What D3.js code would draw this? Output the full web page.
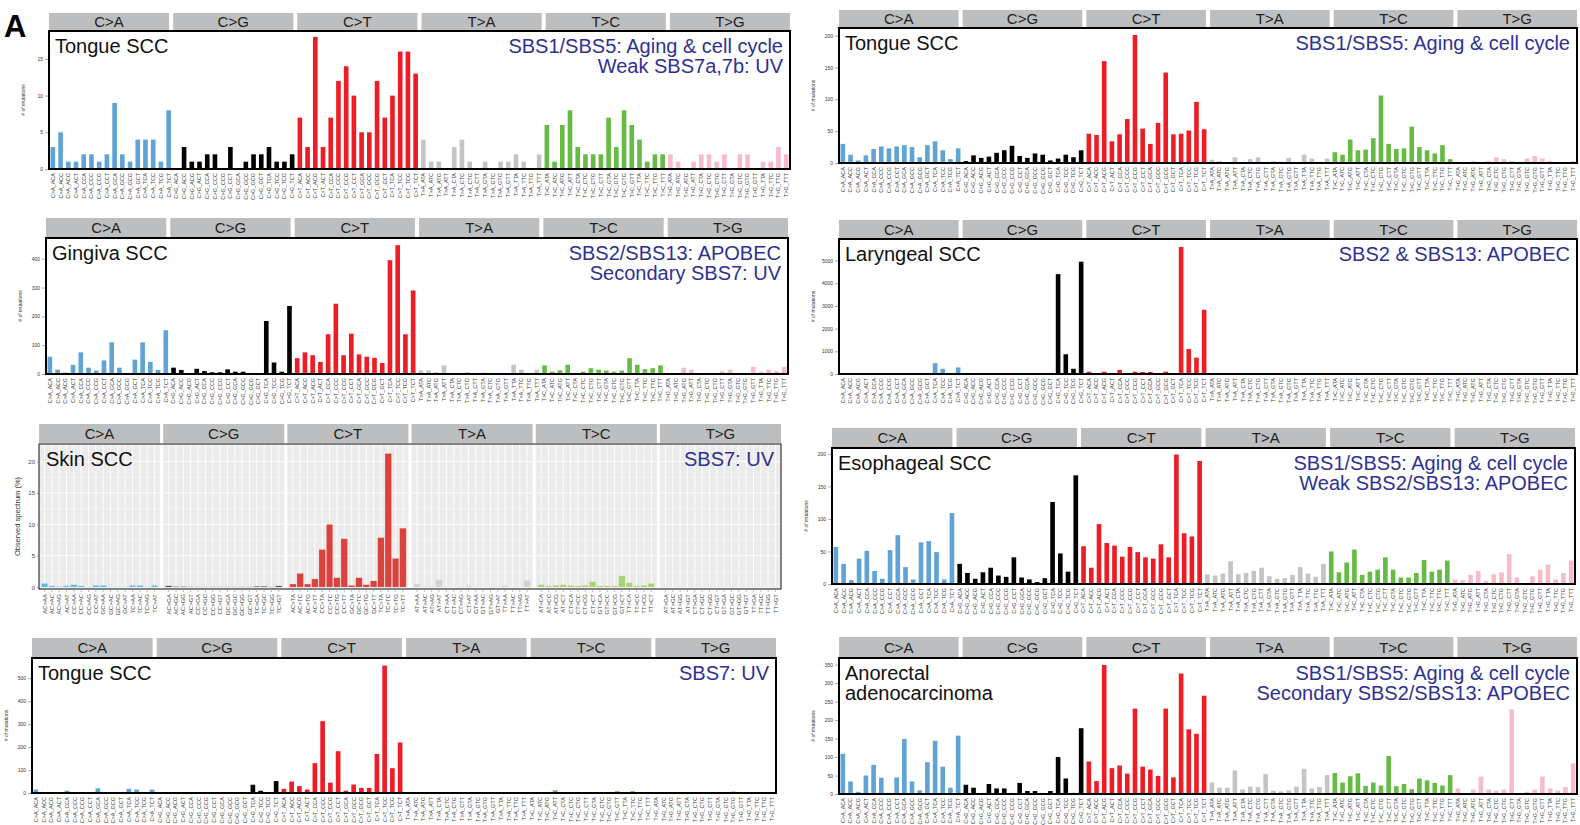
<!DOCTYPE html>
<html>
<head>
<meta charset="utf-8">
<script src="https://cdn.jsdelivr.net/npm/d3@7"></script>
<style>
  body { margin: 0; background: #fff; }
  svg { display: block; font-family: "Liberation Sans", Arial, sans-serif; }
</style>
</head>
<body>
<svg id="fig" width="1580" height="825"></svg>
<script>
// mutation classes and flanking bases
var mutTypes = ["C>A", "C>G", "C>T", "T>A", "T>C", "T>G"];
var bases = ["A", "C", "G", "T"];

// counts per trinucleotide context, 16 per mutation class in the order above
var tongueScc1 = [
  3,5,1,1,2,2,1,2,9,2,1,4,4,4,1,8,
  0,3,1,1,2,2,0,3,0,1,2,2,3,1,1,2,
  7,3,18,3,7,12,14,10,5,5,12,7,10,16,16,13,
  4,1,1,0,3,4,1,0,1,0,1,1,2,1,0,2,
  6,1,6,8,3,2,2,2,7,3,8,6,4,1,2,2,
  2,1,0,1,2,2,1,2,0,2,2,0,1,1,3,2
];
var tongueScc2 = [
  30,13,4,12,22,26,23,26,28,25,9,28,34,20,6,23,
  3,12,8,10,16,20,27,11,8,15,13,4,7,13,9,20,
  46,44,160,34,45,69,201,54,30,63,142,45,46,51,96,53,
  5,3,1,9,1,6,9,1,3,2,8,1,13,7,1,7,
  17,13,37,20,21,39,106,30,22,23,57,25,20,15,28,6,
  1,1,3,1,3,9,6,3,1,7,11,7,3,1,1,3
];
var gingivaScc = [
  60,15,5,32,75,22,12,47,110,22,2,50,110,42,14,152,
  22,14,3,18,10,6,6,16,8,8,2,2,184,40,8,236,
  55,75,65,42,138,244,65,140,68,60,56,38,395,447,138,290,
  12,12,7,30,2,2,7,2,5,2,2,2,32,15,2,15,
  30,8,13,32,3,8,20,15,12,8,12,55,32,17,20,30,
  3,2,22,15,3,2,3,10,15,3,2,25,8,15,10,25
];
var laryngealScc = [
  10,5,5,10,5,5,5,10,5,5,10,10,480,230,10,290,
  10,5,5,10,5,5,5,10,5,5,5,10,4400,870,230,4950,
  100,20,100,20,180,20,100,90,90,20,100,20,5600,1100,720,2830,
  10,5,5,10,5,5,5,10,5,5,5,10,10,5,5,10,
  10,5,10,10,5,5,10,10,5,5,10,10,10,5,10,10,
  5,5,5,5,5,5,5,5,5,5,5,5,5,5,5,5
];
// observed spectrum, percent
var skinScc = [
  0.6,0.2,0.1,0.2,0.4,0.2,0.05,0.3,0.3,0.05,0.05,0.05,0.3,0.3,0.05,0.3,
  0.2,0.1,0.1,0.05,0.05,0.05,0.05,0.05,0.05,0.05,0.05,0.05,0.15,0.15,0.05,0.2,
  0.5,2.2,0.5,1.3,6.0,10.0,1.5,7.7,0.3,1.5,0.4,1.0,7.9,21.3,4.6,9.4,
  0.5,0.1,0.1,1.2,0.1,0.05,0.1,0.2,0.05,0.05,0.1,0.1,0.2,0.05,0.05,1.1,
  0.4,0.2,0.3,0.4,0.3,0.2,0.3,0.9,0.2,0.2,0.2,1.8,0.7,0.2,0.3,0.6,
  0.05,0.05,0.1,0.05,0.05,0.05,0.05,0.05,0.05,0.05,0.05,0.1,0.1,0.05,0.05,0.1
];
var esophagealScc = [
  57,31,6,39,51,20,8,52,75,26,7,64,66,49,7,109,
  31,17,8,18,25,13,11,41,10,7,3,9,126,47,19,167,
  58,25,92,63,59,42,57,49,41,39,61,41,199,78,73,189,
  15,13,16,35,15,17,20,25,12,8,9,14,26,16,11,31,
  50,18,33,53,14,19,22,41,22,10,10,17,37,19,22,36,
  7,6,14,20,5,15,18,46,10,1,12,22,30,7,17,36
];
var tongueScc3 = [
  15,3,2,2,10,2,2,2,20,2,2,2,18,15,2,15,
  2,2,2,2,2,2,2,2,2,2,2,2,36,10,2,52,
  18,50,30,15,130,313,45,182,10,37,22,22,170,555,108,220,
  2,2,4,2,2,2,2,2,2,2,2,2,2,2,2,2,
  4,2,2,12,2,2,2,2,2,2,2,8,4,8,2,2,
  2,2,2,2,2,2,2,2,2,4,8,2,2,2,2,2
];
var anorectalAdeno = [
  109,34,6,50,79,44,3,45,149,34,10,86,144,74,17,158,
  25,17,2,27,15,15,2,30,8,8,2,8,100,42,3,178,
  88,35,349,70,77,55,231,74,66,49,231,45,326,175,163,266,
  31,17,17,64,12,20,19,54,9,7,10,20,68,15,19,51,
  57,31,48,56,22,31,23,103,21,27,13,42,37,30,23,51,
  15,2,12,47,12,9,12,229,2,6,12,47,15,9,19,83
];

var barColors = { "C>A": "#5fa4d4", "C>G": "#000000", "C>T": "#ee1c25", "T>A": "#c4c4c4", "T>C": "#66bb44", "T>G": "#f6bccb" };
var skinColors = { "C>A": "#58b5e6", "C>G": "#3a3a3a", "C>T": "#d8332b", "T>A": "#cfcfcf", "T>C": "#a3d06a", "T>G": "#f3c9c9" };
var noteColor = "#2e3192";

// 96 contexts: mutation class, 5' base, 3' base
var contexts = [];
mutTypes.forEach(function (m) {
  bases.forEach(function (a) {
    bases.forEach(function (b) { contexts.push({ m: m, a: a, b: b }); });
  });
});
function stdLabel(c) { return c.m + "_" + c.a + c.m[0] + c.b; }
function skinLabel(c) { return c.a + c.m[0] + ">" + c.m[2] + c.b; }

var panels = [
  { values: tongueScc1, title: ["Tongue SCC"], note: ["SBS1/SBS5: Aging & cell cycle", "Weak SBS7a,7b: UV"],
    x0: 49, x1: 790, stripTop: 13, top: 31, bottom: 169, yMax: 18.8, ticks: [0, 5, 10, 15] },
  { values: tongueScc2, title: ["Tongue SCC"], note: ["SBS1/SBS5: Aging & cell cycle"],
    x0: 839, x1: 1577, stripTop: 10, top: 28, bottom: 163, yMax: 212, ticks: [0, 50, 100, 150, 200] },
  { values: gingivaScc, title: ["Gingiva SCC"], note: ["SBS2/SBS13: APOBEC", "Secondary SBS7: UV"],
    x0: 46, x1: 788, stripTop: 218, top: 238, bottom: 374, yMax: 472, ticks: [0, 100, 200, 300, 400] },
  { values: laryngealScc, title: ["Laryngeal SCC"], note: ["SBS2 & SBS13: APOBEC"],
    x0: 839, x1: 1577, stripTop: 220, top: 239, bottom: 374, yMax: 5950, ticks: [0, 1000, 2000, 3000, 4000, 5000] },
  { values: skinScc, title: ["Skin SCC"], note: ["SBS7: UV"], skin: true,
    x0: 39, x1: 781, stripTop: 424, top: 444, bottom: 589, yMin: -0.3, yMax: 22.8, ticks: [0, 5, 10, 15, 20] },
  { values: esophagealScc, title: ["Esophageal SCC"], note: ["SBS1/SBS5: Aging & cell cycle", "Weak SBS2/SBS13: APOBEC"],
    x0: 832, x1: 1575, stripTop: 428, top: 448, bottom: 584, yMax: 209, ticks: [0, 50, 100, 150, 200] },
  { values: tongueScc3, title: ["Tongue SCC"], note: ["SBS7: UV"],
    x0: 32, x1: 776, stripTop: 638, top: 658, bottom: 793, yMax: 588, ticks: [0, 100, 200, 300, 400, 500] },
  { values: anorectalAdeno, title: ["Anorectal", "adenocarcinoma"], note: ["SBS1/SBS5: Aging & cell cycle", "Secondary SBS2/SBS13: APOBEC"],
    x0: 839, x1: 1577, stripTop: 637, top: 658, bottom: 794, yMax: 368, ticks: [0, 50, 100, 150, 200, 250, 300, 350] }
];

var svg = d3.select("#fig");

svg.append("text").attr("x", 4).attr("y", 37)
  .attr("font-size", 31).attr("font-weight", "bold").text("A");

function drawStrips(g, p, pad) {
  var s = d3.scaleBand().domain(mutTypes).range([p.x0, p.x1]).paddingInner(pad);
  var h = p.top - p.stripTop - 1;
  g.selectAll("rect.strip").data(mutTypes).join("rect")
    .attr("class", "strip")
    .attr("x", function (d) { return s(d); }).attr("y", p.stripTop)
    .attr("width", s.bandwidth()).attr("height", h)
    .attr("fill", "#bcbec0");
  g.selectAll("text.strip").data(mutTypes).join("text")
    .attr("class", "strip")
    .attr("x", function (d) { return s(d) + s.bandwidth() / 2; })
    .attr("y", p.stripTop + h / 2 + 5.5)
    .attr("text-anchor", "middle").attr("font-size", 15).attr("fill", "#231f20")
    .text(function (d) { return d; });
}

function drawTexts(g, p, dx) {
  p.title.forEach(function (t, i) {
    g.append("text").attr("x", p.x0 + dx).attr("y", p.top + 22 + i * 20)
      .attr("font-size", 20).attr("fill", "#111").text(t);
  });
  p.note.forEach(function (t, i) {
    g.append("text").attr("x", p.x1 - 7).attr("y", p.top + 22 + i * 20)
      .attr("text-anchor", "end").attr("font-size", 20).attr("fill", noteColor).text(t);
  });
}

function drawBars(p) {
  var g = svg.append("g");
  drawStrips(g, p, 0.033);
  var x = d3.scaleBand().domain(d3.range(96)).range([p.x0, p.x1]).paddingInner(0.4).paddingOuter(0.2);
  var y = d3.scaleLinear().domain([0, p.yMax]).range([p.bottom, p.top]);

  g.selectAll("rect.bar").data(p.values).join("rect")
    .attr("class", "bar")
    .attr("x", function (d, i) { return x(i); })
    .attr("width", x.bandwidth())
    .attr("y", function (d) { return y(d); })
    .attr("height", function (d) { return y(0) - y(d); })
    .attr("fill", function (d, i) { return barColors[contexts[i].m]; });

  g.append("rect").attr("x", p.x0).attr("y", p.top)
    .attr("width", p.x1 - p.x0).attr("height", p.bottom - p.top)
    .attr("fill", "none").attr("stroke", "#000").attr("stroke-width", 2);

  var ya = g.append("g").attr("transform", "translate(" + (p.x0 - 1) + ",0)")
    .call(d3.axisLeft(y).tickValues(p.ticks).tickFormat(d3.format("d")).tickSize(3).tickPadding(2));
  ya.select(".domain").remove();
  ya.attr("font-family", null);
  ya.selectAll("text").attr("font-size", 5).attr("fill", "#333");
  ya.selectAll("line").attr("stroke", "#555").attr("stroke-width", 0.5);

  g.append("text")
    .attr("transform", "translate(" + (p.x0 - 24) + "," + ((p.top + p.bottom) / 2) + ") rotate(-90)")
    .attr("text-anchor", "middle").attr("font-size", 5).attr("fill", "#333")
    .text("# of mutations");

  var xa = g.append("g").attr("transform", "translate(0," + (p.bottom + 1) + ")")
    .call(d3.axisBottom(x).tickSize(0).tickFormat(function (i) { return stdLabel(contexts[i]); }));
  xa.select(".domain").remove();
  xa.attr("font-family", null);
  xa.selectAll("text")
    .attr("transform", "rotate(-90)").attr("text-anchor", "end")
    .attr("x", -3).attr("y", 0).attr("dy", "0.35em")
    .attr("font-size", 5.5).attr("fill", "#444");

  drawTexts(g, p, 6);
}

function drawSkin(p) {
  var g = svg.append("g");
  drawStrips(g, p, 0.025);
  var fx = d3.scaleBand().domain(mutTypes).range([p.x0, p.x1]).paddingInner(0.025);
  var y = d3.scaleLinear().domain([p.yMin, p.yMax]).range([p.bottom, p.top]);
  var minor = [2.5, 7.5, 12.5, 17.5, 22.5];

  mutTypes.forEach(function (m, k) {
    var vals = p.values.slice(k * 16, k * 16 + 16);
    var x = d3.scaleBand().domain(d3.range(16))
      .range([fx(m), fx(m) + fx.bandwidth()]).paddingInner(0.1).paddingOuter(0.3);
    var f = g.append("g");
    f.append("rect").attr("x", fx(m)).attr("y", p.top)
      .attr("width", fx.bandwidth()).attr("height", p.bottom - p.top).attr("fill", "#ebebeb");
    f.selectAll("line.minor").data(minor).join("line")
      .attr("x1", fx(m)).attr("x2", fx(m) + fx.bandwidth())
      .attr("y1", function (d) { return y(d); }).attr("y2", function (d) { return y(d); })
      .attr("stroke", "#fff").attr("stroke-width", 0.4);
    f.selectAll("line.major").data(p.ticks).join("line")
      .attr("x1", fx(m)).attr("x2", fx(m) + fx.bandwidth())
      .attr("y1", function (d) { return y(d); }).attr("y2", function (d) { return y(d); })
      .attr("stroke", "#fff").attr("stroke-width", 0.9);
    f.selectAll("line.vert").data(d3.range(16)).join("line")
      .attr("x1", function (i) { return x(i) + x.bandwidth() / 2; })
      .attr("x2", function (i) { return x(i) + x.bandwidth() / 2; })
      .attr("y1", p.top).attr("y2", p.bottom)
      .attr("stroke", "#fff").attr("stroke-width", 0.9);
    f.selectAll("rect.bar").data(vals).join("rect")
      .attr("x", function (d, i) { return x(i); })
      .attr("width", x.bandwidth())
      .attr("y", function (d) { return y(d); })
      .attr("height", function (d) { return y(0) - y(d); })
      .attr("fill", skinColors[m]).attr("fill-opacity", 0.92)
      .attr("stroke", "#f4f4f4").attr("stroke-width", 0.3);

    var xa = f.append("g").attr("transform", "translate(0," + (p.bottom + 1) + ")")
      .call(d3.axisBottom(x).tickSize(2).tickFormat(function (i) { return skinLabel(contexts[k * 16 + i]); }));
    xa.select(".domain").remove();
    xa.attr("font-family", null);
    xa.selectAll("line").attr("stroke", "#555").attr("stroke-width", 0.4);
    xa.selectAll("text")
      .attr("transform", "rotate(-90)").attr("text-anchor", "end")
      .attr("x", -4).attr("y", 0).attr("dy", "0.35em")
      .attr("font-size", 6).attr("fill", "#444");
  });

  g.append("rect").attr("x", p.x0).attr("y", p.top)
    .attr("width", p.x1 - p.x0).attr("height", p.bottom - p.top)
    .attr("fill", "none").attr("stroke", "#111").attr("stroke-width", 1);

  var ya = g.append("g").attr("transform", "translate(" + p.x0 + ",0)")
    .call(d3.axisLeft(y).tickValues(p.ticks).tickSize(2).tickPadding(2));
  ya.select(".domain").remove();
  ya.attr("font-family", null);
  ya.selectAll("text").attr("font-size", 6).attr("fill", "#444");
  ya.selectAll("line").attr("stroke", "#555").attr("stroke-width", 0.5);

  g.append("text")
    .attr("transform", "translate(" + (p.x0 - 19) + "," + ((p.top + p.bottom) / 2) + ") rotate(-90)")
    .attr("text-anchor", "middle").attr("font-size", 7.5).attr("fill", "#333")
    .text("Observed spectrum (%)");

  drawTexts(g, p, 7);
}

panels.forEach(function (p) {
  if (p.skin) drawSkin(p); else drawBars(p);
});
</script>
</body>
</html>
